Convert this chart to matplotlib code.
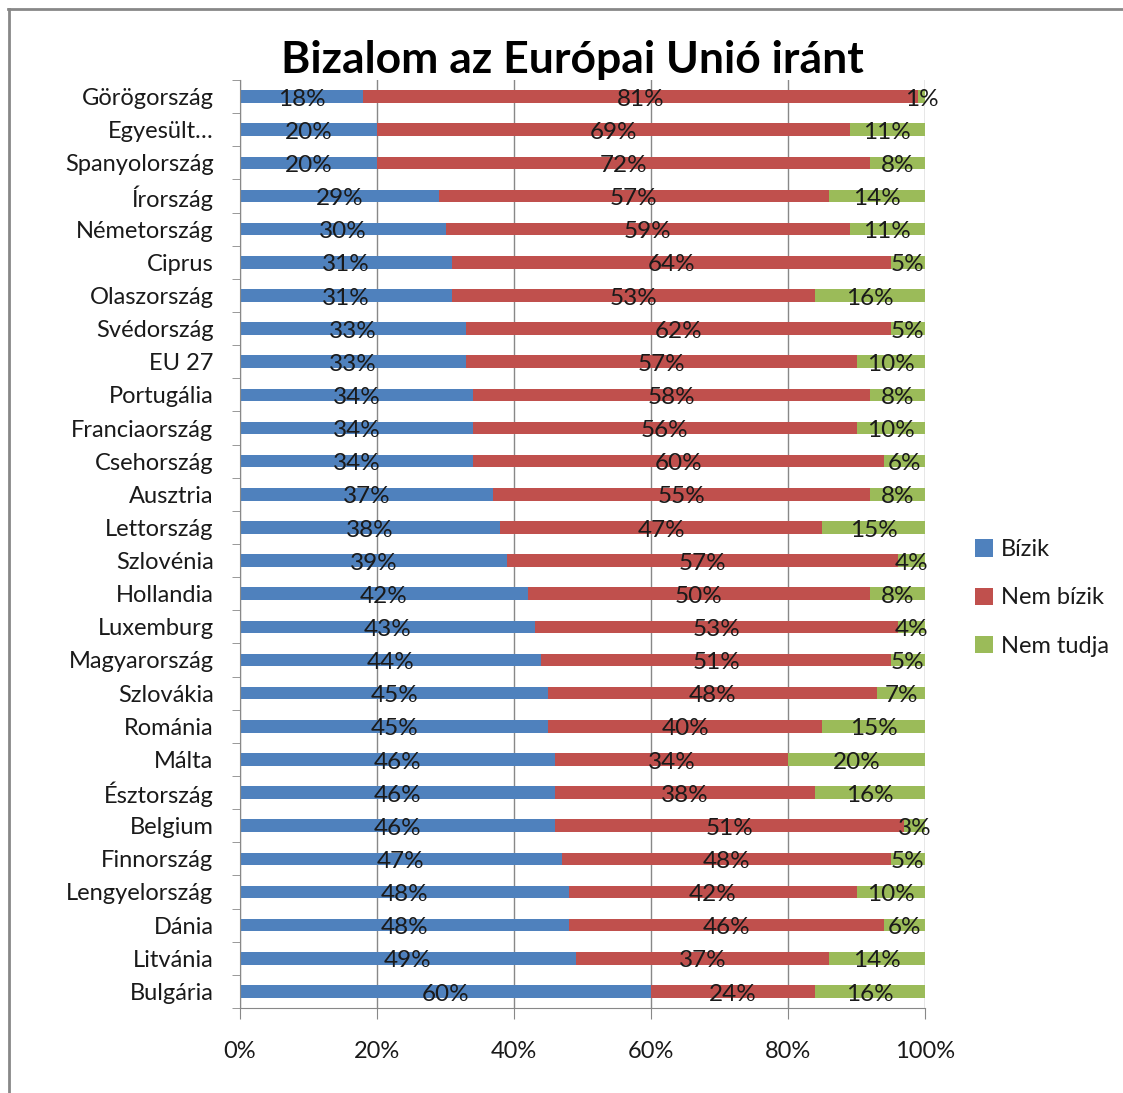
import matplotlib
matplotlib.use("Agg")
import matplotlib.pyplot as plt
from matplotlib.lines import Line2D
import numpy as np

countries = ["Görögország", "Egyesült…", "Spanyolország", "Írország", "Németország",
             "Ciprus", "Olaszország", "Svédország", "EU 27", "Portugália",
             "Franciaország", "Csehország", "Ausztria", "Lettország", "Szlovénia",
             "Hollandia", "Luxemburg", "Magyarország", "Szlovákia", "Románia",
             "Málta", "Észtország", "Belgium", "Finnország", "Lengyelország",
             "Dánia", "Litvánia", "Bulgária"]
bizik = [18, 20, 20, 29, 30, 31, 31, 33, 33, 34, 34, 34, 37, 38, 39, 42, 43, 44, 45, 45,
         46, 46, 46, 47, 48, 48, 49, 60]
nem_bizik = [81, 69, 72, 57, 59, 64, 53, 62, 57, 58, 56, 60, 55, 47, 57, 50, 53, 51, 48, 40,
             34, 38, 51, 48, 42, 46, 37, 24]
nem_tudja = [1, 11, 8, 14, 11, 5, 16, 5, 10, 8, 10, 6, 8, 15, 4, 8, 4, 5, 7, 15,
             20, 16, 3, 5, 10, 6, 14, 16]
series_names = ["Bízik", "Nem bízik", "Nem tudja"]
colors = ["#4F81BD", "#C0504D", "#9BBB59"]
xticks = [0, 20, 40, 60, 80, 100]

plt.rcParams['font.family'] = ['Lato', 'DejaVu Sans']

fig = plt.figure(figsize=(11.23, 10.93), dpi=100)
ax = fig.add_axes([240/1123, 1-1008/1093, 685/1123, 928/1093])

n = len(countries)
y = np.arange(n)[::-1]
data = np.array([bizik, nem_bizik, nem_tudja], dtype=float)
totals = data.sum(axis=0)
pct = data / totals * 100

left = np.zeros(n)
for i in range(3):
    ax.barh(y, pct[i], left=left, height=0.38, color=colors[i], label=series_names[i], zorder=2)
    for j in range(n):
        ax.text(left[j] + pct[i][j] / 2, y[j] - 0.08, f"{int(data[i][j])}%",
                ha='center', va='center', fontsize=17.5, color='#1a1a1a', zorder=3)
    left += pct[i]

ax.set_xlim(0, 100)
ax.set_ylim(-0.5, n - 0.5)
ax.set_yticks(y)
ax.set_yticklabels(countries, fontsize=17, color='#1a1a1a')
ax.set_yticks(np.arange(-0.5, n, 1), minor=True)
ax.tick_params(axis='y', which='major', length=0, pad=19)
ax.tick_params(axis='y', which='minor', length=6, color='#888888', direction='out')
ax.set_xticks(xticks)
ax.set_xticklabels([f"{t}%" for t in xticks], fontsize=17, color='#1a1a1a')
ax.tick_params(axis='x', length=8, color='#888888', pad=16)
ax.grid(axis='x', color='#888888', linewidth=1, zorder=0)
for s in ['top', 'right']:
    ax.spines[s].set_visible(False)
for s in ['left', 'bottom']:
    ax.spines[s].set_color('#888888')

fig.text(572/1123, 1-60/1093, "Bizalom az Európai Unió iránt", ha='center', va='center',
         fontsize=32, fontweight='bold', color='black')

leg = fig.legend(loc='center left', bbox_to_anchor=(954/1123, 1-598/1093), frameon=False,
                 fontsize=17, handlelength=0.75, handleheight=0.75, labelspacing=1.15,
                 handletextpad=0.35)
for t in leg.get_texts():
    t.set_color('#1a1a1a')

fig.lines.append(Line2D([8/1123, 1.0], [1-8.5/1093, 1-8.5/1093], transform=fig.transFigure,
                        color='#888888', linewidth=2))
fig.lines.append(Line2D([8.5/1123, 8.5/1123], [0.0, 1-8.5/1093], transform=fig.transFigure,
                        color='#888888', linewidth=2))

fig.savefig("out.png", dpi=100)
